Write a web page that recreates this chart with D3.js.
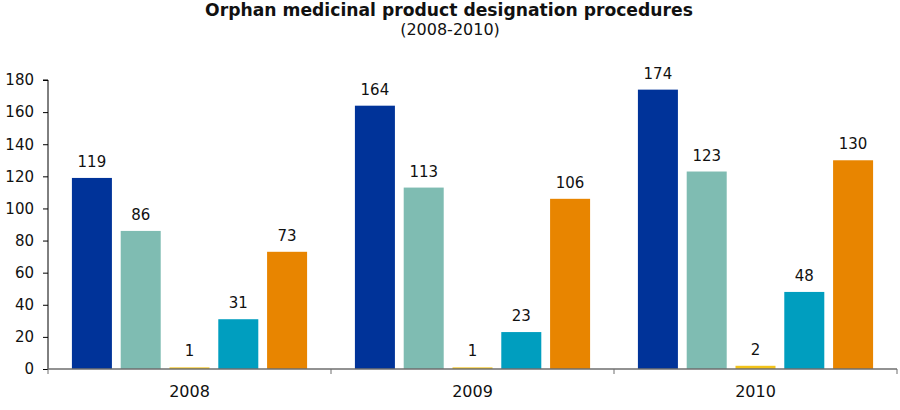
<!DOCTYPE html>
<html>
<head>
<meta charset="utf-8">
<script src="https://cdn.jsdelivr.net/npm/d3@7"></script>
<style>
  html, body { margin: 0; padding: 0; background: #fff; }
  svg { display: block; }
  text { font-family: Verdana, "DejaVu Sans", sans-serif; fill: #111; }
</style>
</head>
<body>
<svg id="chart" width="900" height="410"></svg>
<script>
// ---- data ----
const years = ["2008", "2009", "2010"];
const seriesKeys = ["s1", "s2", "s3", "s4", "s5"];
const seriesValues = [
  [119, 164, 174],
  [86, 113, 123],
  [1, 1, 2],
  [31, 23, 48],
  [73, 106, 130]
];
const seriesColors = ["#003399", "#7fbcb2", "#f2c31a", "#009ebf", "#e88500"];
const yTicks = [0, 20, 40, 60, 80, 100, 120, 140, 160, 180];
const titleText = "Orphan medicinal product designation procedures";
const subtitleText = "(2008-2010)";

// ---- layout ----
const svg = d3.select("#chart");
const margin = { left: 48, right: 3, top: 80, bottom: 41 };
const W = 900, H = 410;
const x0 = margin.left, x1 = W - margin.right;
const yBase = H - margin.bottom; // 369

const y = d3.scaleLinear().domain([0, 180]).range([yBase, margin.top]);
const xGroup = d3.scaleBand().domain(years).range([x0, x1]).padding(0);
const xBar = d3.scaleBand().domain(seriesKeys).range([0, xGroup.bandwidth()])
  .paddingInner(0.18).paddingOuter(0.49);

// ---- title ----
const title = svg.append("text")
  .attr("x", 449).attr("y", 16)
  .attr("text-anchor", "middle")
  .style("font-weight", "bold").style("font-size", "16px")
  .text(titleText);
const tl = title.node().getComputedTextLength();
title.style("font-size", (16 * 488 / tl).toFixed(2) + "px");

svg.append("text")
  .attr("x", 450).attr("y", 35)
  .attr("text-anchor", "middle")
  .style("font-size", "16px")
  .text(subtitleText);

// ---- bars ----
const groups = svg.append("g").selectAll("g")
  .data(years).join("g")
  .attr("transform", d => `translate(${xGroup(d)},0)`);

groups.each(function(year, yi) {
  const g = d3.select(this);
  const rows = seriesKeys.map((k, si) => ({ key: k, value: seriesValues[si][yi], color: seriesColors[si] }));
  g.selectAll("rect").data(rows).join("rect")
    .attr("x", d => xBar(d.key))
    .attr("width", xBar.bandwidth())
    .attr("y", d => y(d.value))
    .attr("height", d => yBase - y(d.value))
    .attr("fill", d => d.color);
  g.selectAll("text.val").data(rows).join("text")
    .attr("class", "val")
    .attr("x", d => xBar(d.key) + xBar.bandwidth() / 2)
    .attr("y", d => y(d.value) - 11)
    .attr("text-anchor", "middle")
    .style("font-size", "15px")
    .text(d => d.value);
});

// ---- y axis ----
const yAxis = d3.axisLeft(y).tickValues(yTicks).tickSize(5).tickPadding(9);
const gy = svg.append("g").attr("transform", `translate(${x0},0)`).call(yAxis);
gy.select(".domain").attr("stroke", "#000").attr("d", `M-5,${y(180)}H0V${yBase}`);
gy.selectAll(".tick line").attr("stroke", "#000");
gy.selectAll(".tick text").style("font-size", "15px")
  .style("font-family", 'Verdana, "DejaVu Sans", sans-serif').attr("fill", "#111");

// ---- x axis ----
const gx = svg.append("g").attr("transform", `translate(0,${yBase})`);
gx.append("line").attr("x1", x0).attr("x2", x1).attr("y1", 0).attr("y2", 0)
  .attr("stroke", "#6e6e6e").attr("stroke-width", 1.5);
const seps = years.map(d => xGroup(d)).concat([x1]);
gx.selectAll("line.sep").data(seps).join("line")
  .attr("class", "sep")
  .attr("x1", d => d).attr("x2", d => d).attr("y1", 0).attr("y2", 5)
  .attr("stroke", "#6e6e6e");
gx.selectAll("text").data(years).join("text")
  .attr("x", d => xGroup(d) + xGroup.bandwidth() / 2)
  .attr("y", 28)
  .attr("text-anchor", "middle")
  .style("font-size", "16px")
  .text(d => d);
</script>
</body>
</html>
